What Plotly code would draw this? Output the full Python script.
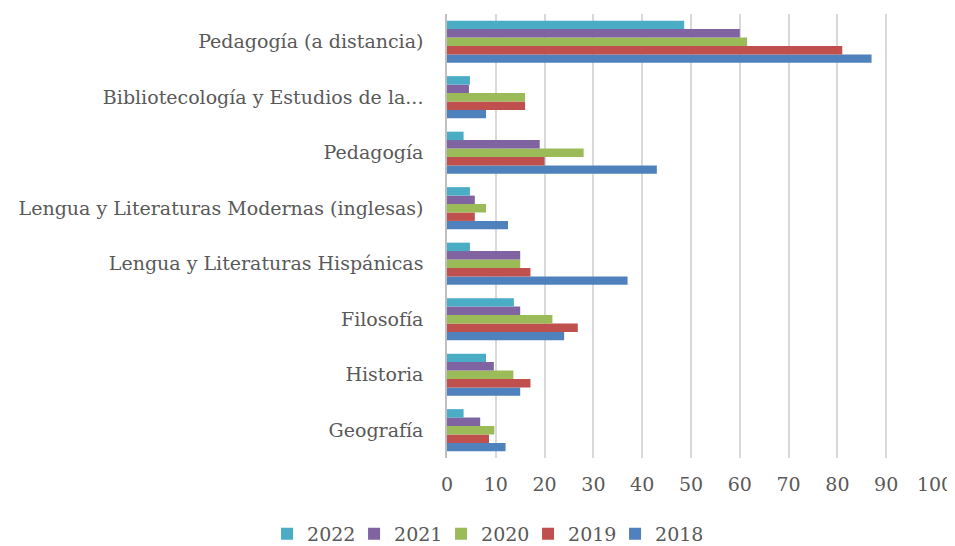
import plotly.graph_objects as go

categories = ["Geografía", "Historia", "Filosofía", "Lengua y Literaturas Hispánicas",
              "Lengua y Literaturas Modernas (inglesas)", "Pedagogía",
              "Bibliotecología y Estudios de la...", "Pedagogía (a distancia)"]

years = ["2018", "2019", "2020", "2021", "2022"]
v2018 = [12, 15, 24, 37, 12.5, 43, 8, 87]
v2019 = [8.6, 17.1, 26.8, 17.1, 5.7, 20, 16, 81]
v2020 = [9.7, 13.6, 21.6, 15, 8, 28, 16, 61.5]
v2021 = [6.8, 9.6, 15, 15, 5.7, 19, 4.5, 60]
v2022 = [3.4, 8, 13.7, 4.7, 4.7, 3.4, 4.7, 48.6]
series = [v2018, v2019, v2020, v2021, v2022]
colors = ["#4F81BD", "#C0504D", "#9BBB59", "#8064A2", "#4BACC6"]

fig = go.Figure()
for name, vals, col in zip(years, series, colors):
    fig.add_trace(go.Bar(y=categories, x=vals, name=name, orientation="h",
                         marker=dict(color=col, line=dict(width=0))))

family = "DejaVu Serif, Liberation Serif, serif"
tf = dict(family=family, size=19, color="#595959")
fig.update_layout(
    width=955, height=546,
    margin=dict(l=439, r=28, t=6, b=96),
    paper_bgcolor="white", plot_bgcolor="white",
    barmode="group", bargap=0.24, bargroupgap=0,
    font=tf,
    legend=dict(orientation="h", traceorder="reversed",
                xref="container", yref="container",
                x=0.499, xanchor="center", y=0.037, yanchor="middle",
                font=tf, itemwidth=30, entrywidth=42, entrywidthmode="pixels"),
    xaxis=dict(range=[0, 100], dtick=10, showgrid=True, gridcolor="#D9D9D9",
               gridwidth=1.5, zeroline=False, showline=False, automargin=False,
               tickfont=tf, ticks="outside", ticklen=9, tickcolor="rgba(0,0,0,0)"),
    yaxis=dict(showline=True, linecolor="#BFBFBF", linewidth=1.5, automargin=False,
               ticks="", tickfont=tf, ticklabelstandoff=18),
)
fig.write_html("out.html")
